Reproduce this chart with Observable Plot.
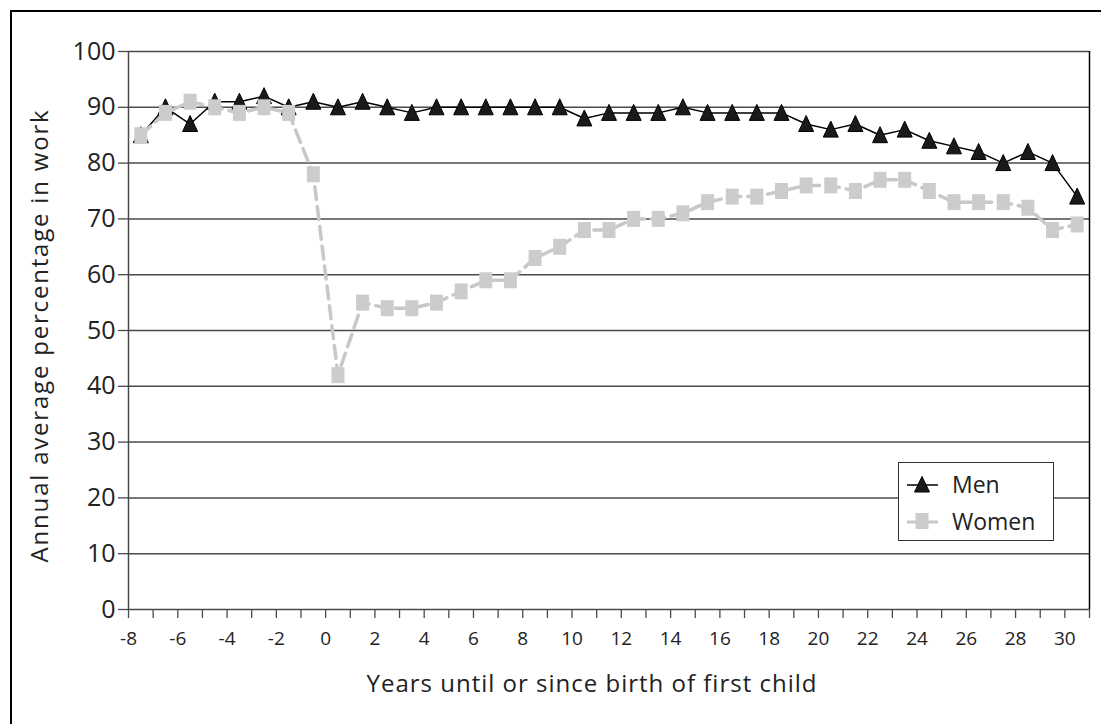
<!DOCTYPE html>
<html><head><meta charset="utf-8">
<script src="https://cdn.jsdelivr.net/npm/d3@7"></script>
<script src="https://cdn.jsdelivr.net/npm/@observablehq/plot@0.6"></script>
<style>
body{margin:0;background:#fff;overflow:hidden;font-family:"Open Sans",sans-serif;}
#wrap{position:relative;width:1101px;height:724px;overflow:hidden;background:#fff;}
#border{position:absolute;left:10px;top:10px;width:1200px;height:900px;border:2px solid #000;box-sizing:border-box;pointer-events:none;}
#chart{position:absolute;left:0;top:0;}
#legend{position:absolute;left:898px;top:462px;width:156px;height:79px;box-sizing:border-box;border:1.5px solid #333;background:#fff;font-family:"Open Sans",sans-serif;font-size:23px;color:#222;}
.item{position:absolute;left:8px;height:30px;display:flex;align-items:center;}
.item svg{margin-right:14px;}
</style></head><body>
<div id="wrap"><div id="chart"></div><div id="legend"></div><div id="border"></div></div>
<script>
const years = [-7.5,-6.5,-5.5,-4.5,-3.5,-2.5,-1.5,-0.5,0.5,1.5,2.5,3.5,4.5,5.5,6.5,7.5,8.5,9.5,10.5,11.5,12.5,13.5,14.5,15.5,16.5,17.5,18.5,19.5,20.5,21.5,22.5,23.5,24.5,25.5,26.5,27.5,28.5,29.5,30.5];
const men   = [85,90,87,91,91,92,90,91,90,91,90,89,90,90,90,90,90,90,88,89,89,89,90,89,89,89,89,87,86,87,85,86,84,83,82,80,82,80,74];
const women = [85,89,91,90,89,90,89,78,42,55,54,54,55,57,59,59,63,65,68,68,70,70,71,73,74,74,75,76,76,75,77,77,75,73,73,73,72,68,69];
const seriesNames = ["Men","Women"];
const xTickLabels = [-8,-6,-4,-2,0,2,4,6,8,10,12,14,16,18,20,22,24,26,28,30];
const xTickMarks = d3.range(-8, 32);
const yTicks = [0,10,20,30,40,50,60,70,80,90,100];
const xTitle = "Years until or since birth of first child";
const yTitle = "Annual average percentage in work";

const menData = years.map((x,i)=>({x, y: men[i]}));
const womenData = years.map((x,i)=>({x, y: women[i]}));

const triSym = {draw(ctx){ctx.moveTo(0,-8.5);ctx.lineTo(7.5,7.5);ctx.lineTo(-7.5,7.5);ctx.closePath();}};
const sqSym = {draw(ctx){ctx.rect(-6.5,-8,13,16);}};

const chart = Plot.plot({
  width: 1101, height: 724,
  marginLeft: 128, marginRight: 12, marginTop: 51, marginBottom: 115,
  style: {fontFamily: '"Open Sans", sans-serif', color: "#222", background: "transparent"},
  x: {domain: [-8, 31]},
  y: {domain: [0, 100]},
  marks: [
    Plot.ruleY(yTicks.filter(d => d > 0), {stroke: "#4a4a4a", strokeWidth: 1.5}),
    Plot.ruleX([-8], {stroke: "#4a4a4a", strokeWidth: 1.5}),
    Plot.ruleX([31], {stroke: "#000", strokeWidth: 1.5}),
    Plot.ruleY([0], {stroke: "#4a4a4a", strokeWidth: 1.5}),
    Plot.axisX({ticks: xTickMarks, tickFormat: d => xTickLabels.includes(d) ? String(d) : "", tickSize: 9, tickPadding: 13, fontSize: 19, stroke: "#4a4a4a", strokeWidth: 1.3, label: null}),
    Plot.axisY({ticks: yTicks, tickSize: 10, tickPadding: 3, fontSize: 25, stroke: "#4a4a4a", strokeWidth: 1.3, label: null}),
    Plot.text([xTitle], {frameAnchor: "bottom", dx: -17, dy: 75, lineAnchor: "middle", textAnchor: "middle", fontSize: 24, fill: "#222"}),
    Plot.text([yTitle], {frameAnchor: "left", rotate: -90, dx: -88, dy: 5, lineAnchor: "middle", textAnchor: "middle", fontSize: 24, fill: "#222"}),
    Plot.line(menData, {x: "x", y: "y", stroke: "#000", strokeWidth: 1.5}),
    Plot.dot(menData, {x: "x", y: "y", symbol: triSym, fill: "#1a1a1a", stroke: "#000", strokeWidth: 1, r: 6}),
    Plot.line(womenData, {x: "x", y: "y", stroke: "#c8c8c8", strokeWidth: 3.5, strokeDasharray: "13,7"}),
    Plot.dot(womenData, {x: "x", y: "y", symbol: sqSym, fill: "#cccccc", stroke: "none", r: 6})
  ]
});
document.getElementById("chart").appendChild(chart);
d3.select(chart).selectAll("text").each(function(){
  const t = this.textContent;
  if (t === xTitle) this.style.letterSpacing = "1px";
  if (t === yTitle) this.style.letterSpacing = "1.8px";
});

const legend = document.getElementById("legend");
seriesNames.forEach((name, i) => {
  const div = document.createElement("div");
  div.className = "item";
  div.style.top = (i === 0 ? 6 : 43) + "px";
  const marker = i === 0
    ? '<path d="M15,2.5 L22.5,18 L7.5,18 Z" fill="#1a1a1a" stroke="#000"/>'
    : '<rect x="8.5" y="2" width="13" height="16" fill="#cccccc"/>';
  const col = i === 0 ? "#000" : "#c8c8c8";
  const sw = i === 0 ? 1.5 : 3;
  div.innerHTML = `<svg width="31" height="20"><line x1="0" x2="31" y1="11" y2="11" stroke="${col}" stroke-width="${sw}"/>${marker}</svg><span>${name}</span>`;
  legend.appendChild(div);
});
</script>
</body></html>
